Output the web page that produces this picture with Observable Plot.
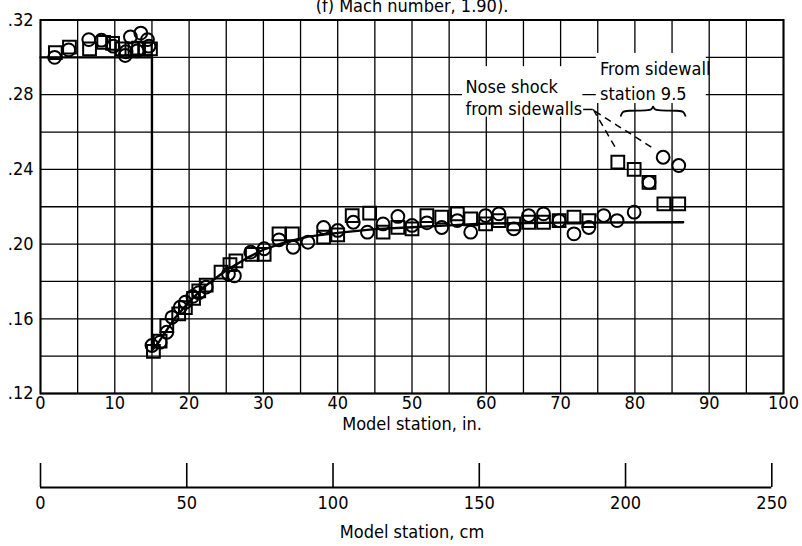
<!DOCTYPE html>
<html><head><meta charset="utf-8">
<script src="https://cdn.jsdelivr.net/npm/d3@7"></script>
<script src="https://cdn.jsdelivr.net/npm/@observablehq/plot@0.6"></script>
<style>
body{margin:0;background:#fff}
#chart{width:802px;height:546px;overflow:hidden;background:#fff}
#chart svg{display:block}
</style>
</head><body><div id="chart"></div>
<script>
const FONT = "'Liberation Sans Narrow','DejaVu Sans Condensed',sans-serif";
const titleText = "(f) Mach number, 1.90).";
const xLabel = "Model station, in.";
const cmLabel = "Model station, cm";

const xTicks = [0, 10, 20, 30, 40, 50, 60, 70, 80, 90, 100];
const yTicks = [0.12, 0.16, 0.20, 0.24, 0.28, 0.32];
const xGrid = [0,5,10,15,20,25,30,35,40,45,50,55,60,65,70,75,80,85,90,95,100];
const yGrid = [0.12,0.14,0.16,0.18,0.20,0.22,0.24,0.26,0.28,0.30,0.32];
const cmTicks = [0, 50, 100, 150, 200, 250];

// square symbols
const squareX = [2.0,3.9,6.6,8.5,9.7,11.0,12.3,13.2,14.1,14.8,
  15.2,16.1,17.0,18.6,19.5,20.6,21.3,22.3,24.3,25.5,26.3,28.5,30.1,32.1,33.9,38.1,40.0,41.95,44.3,46.1,48.1,50.0,52.0,54.0,56.1,57.9,59.9,61.7,63.7,65.7,67.7,69.8,71.8,73.8,77.7,79.9,81.9,83.9,85.9];
const squareY = [0.3025,0.3055,0.3045,0.3080,0.3075,0.3045,0.3045,0.3050,0.3045,0.3045,
  0.1426,0.1480,0.1564,0.1627,0.1660,0.1710,0.1750,0.1780,0.1850,0.1890,0.1910,0.1945,0.1945,0.2055,0.2055,0.2037,0.2050,0.2153,0.2166,0.2064,0.2089,0.2082,0.2153,0.2144,0.2162,0.2135,0.2108,0.2126,0.2108,0.2117,0.2117,0.2126,0.2144,0.2126,0.2439,0.2400,0.2330,0.2216,0.2216];
// circle symbols
const circleX = [1.9,3.8,6.5,8.2,9.8,11.4,11.5,12.1,13.5,14.4,13.0,14.6,
  15.0,16.1,17.0,17.7,18.8,19.5,20.5,21.3,22.3,25.3,26.1,28.3,30.1,32.1,34.0,36.0,38.1,40.0,42.1,44.0,46.1,48.1,50.0,52.0,54.0,56.1,57.9,59.9,61.7,63.7,65.7,67.7,69.8,71.8,73.8,75.8,77.6,79.9,81.9,83.8,85.9];
const circleY = [0.3000,0.3040,0.3095,0.3092,0.3060,0.3010,0.3030,0.3110,0.3130,0.3095,0.3035,0.3060,
  0.1457,0.1475,0.1528,0.1608,0.1662,0.1689,0.1720,0.1740,0.1770,0.1840,0.1830,0.1957,0.1975,0.2023,0.1983,0.2010,0.2089,0.2073,0.2117,0.2064,0.2108,0.2148,0.2100,0.2114,0.2089,0.2126,0.2064,0.2153,0.2162,0.2082,0.2153,0.2162,0.2126,0.2055,0.2089,0.2153,0.2126,0.2171,0.2330,0.2465,0.2421];
// faired curve
const curveX = [0, 15, 15, 16, 18, 20, 22, 25, 28, 30, 33, 36, 40, 45, 50, 55, 60, 70, 86.5];
const curveY = [0.300, 0.300, 0.143, 0.148, 0.160, 0.169, 0.177, 0.186, 0.193, 0.197, 0.201, 0.204, 0.206, 0.208, 0.209, 0.210, 0.211, 0.2115, 0.2117];

// annotations (anchored in data units)
const noteBoxes = [
  {x1: 74.8, x2: 89.6, y1: 0.2753, y2: 0.3021},
  {x1: 56.8, x2: 73.0, y1: 0.2680, y2: 0.2950}
];
const noteTexts = [
  {x: 75.3, y: 0.2934, t: "From sidewall"},
  {x: 75.3, y: 0.2805, t: "station 9.5"},
  {x: 57.2, y: 0.2838, t: "Nose shock"},
  {x: 57.2, y: 0.2720, t: "from sidewalls"}
];
const leaderSolid = {x1: 73.1, x2: 74.4, y: 0.2721};
const leaderDash = [
  {x1: 74.4, y1: 0.2721, x2: 77.6, y2: 0.2501},
  {x1: 74.6, y1: 0.2712, x2: 82.5, y2: 0.2512}
];
const brace = {x1: 78.1, x2: 86.8, y: 0.2715, h: 0.0028};

const squares = squareX.map((x, i) => ({x, y: squareY[i]}));
const circles = circleX.map((x, i) => ({x, y: circleY[i]}));
const curve = curveX.map((x, i) => ({x, y: curveY[i]}));
const xm = (brace.x1 + brace.x2) / 2;
const bracePts = [
  [brace.x1, brace.y - brace.h], [brace.x1 + 0.25, brace.y - 0.0006], [brace.x1 + 0.7, brace.y],
  [xm - 0.6, brace.y], [xm - 0.15, brace.y + 0.0006], [xm, brace.y + brace.h],
  [xm + 0.15, brace.y + 0.0006], [xm + 0.6, brace.y],
  [brace.x2 - 0.7, brace.y], [brace.x2 - 0.25, brace.y - 0.0006], [brace.x2, brace.y - brace.h]
].map(([x, y]) => ({x, y}));

const main = Plot.plot({
  width: 802, height: 450,
  marginLeft: 40, marginRight: 19, marginTop: 19.5, marginBottom: 57,
  style: {fontFamily: FONT, fontSize: "18px", color: "#000", background: "#fff", overflow: "hidden"},
  x: {domain: [0, 100]},
  y: {domain: [0.12, 0.32]},
  marks: [
    Plot.ruleX(xGrid, {stroke: "#000", strokeWidth: 1.3}),
    Plot.ruleY(yGrid, {stroke: "#000", strokeWidth: 1.3}),
    Plot.rect(noteBoxes, {x1: "x1", x2: "x2", y1: "y1", y2: "y2", fill: "#fff"}),
    Plot.frame({stroke: "#000", strokeWidth: 2}),
    Plot.axisX({ticks: xTicks, tickSize: 0, tickPadding: 3, label: null, tickFormat: d => String(d), fontSize: 18}),
    Plot.axisY({ticks: yTicks, tickSize: 0, tickPadding: 7, label: null, tickFormat: d => d.toFixed(2).replace(/^0/, ""), fontSize: 18}),
    Plot.line(curve, {x: "x", y: "y", stroke: "#000", strokeWidth: 2.4}),
    Plot.dot(squares, {x: "x", y: "y", symbol: "square", r: 7.2, stroke: "#000", strokeWidth: 2, fill: "none"}),
    Plot.dot(circles, {x: "x", y: "y", symbol: "circle", r: 6.4, stroke: "#000", strokeWidth: 2, fill: "none"}),
    Plot.text(noteTexts, {x: "x", y: "y", text: "t", textAnchor: "start", fontSize: 18, fill: "#000"}),
    Plot.ruleY([leaderSolid], {x1: "x1", x2: "x2", y: "y", stroke: "#000", strokeWidth: 1.5}),
    Plot.link(leaderDash, {x1: "x1", y1: "y1", x2: "x2", y2: "y2", stroke: "#000", strokeWidth: 1.5, strokeDasharray: "7,5"}),
    Plot.line(bracePts, {x: "x", y: "y", stroke: "#000", strokeWidth: 1.8, curve: "basis"}),
    Plot.text([xLabel], {frameAnchor: "bottom", lineAnchor: "middle", dy: 31, fontSize: 18, fill: "#000"}),
    Plot.text([titleText], {frameAnchor: "top", lineAnchor: "bottom", dy: -8.5, fontSize: 18, fill: "#000"})
  ]
});

const cmAxis = Plot.plot({
  width: 802, height: 96,
  marginLeft: 40, marginRight: 19, marginTop: 13, marginBottom: 59,
  style: {fontFamily: FONT, fontSize: "18px", color: "#000", background: "#fff"},
  x: {domain: [0, 254]},
  y: {domain: [0, 1], axis: null},
  marks: [
    Plot.ruleX(cmTicks, {y1: 0, y2: 1, stroke: "#000", strokeWidth: 1.6}),
    Plot.ruleY([0], {x1: 0, x2: 250, stroke: "#000", strokeWidth: 2}),
    Plot.axisX({ticks: cmTicks, tickSize: 0, tickPadding: 9, label: null, tickFormat: d => String(d), fontSize: 18}),
    Plot.text([cmLabel], {frameAnchor: "bottom", lineAnchor: "middle", dy: 45, fontSize: 18, fill: "#000"})
  ]
});

const el = document.getElementById("chart");
el.appendChild(main);
el.appendChild(cmAxis);
</script>
</body></html>
